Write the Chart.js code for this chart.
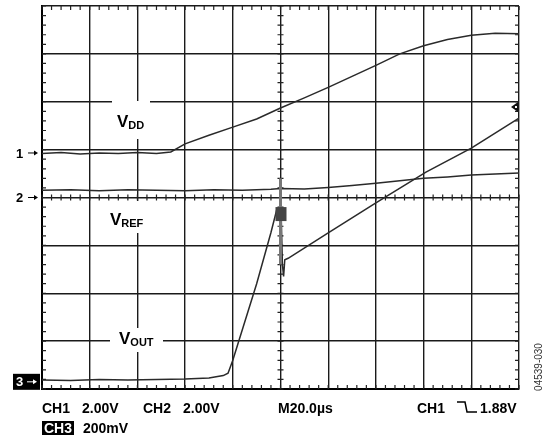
<!DOCTYPE html>
<html>
<head>
<meta charset="utf-8">
<script src="https://cdn.jsdelivr.net/npm/chart.js@4.4.0/dist/chart.umd.min.js"></script>
<style>
  html, body { margin: 0; padding: 0; background: #fff; }
  canvas { display: block; }
</style>
</head>
<body>
<canvas id="scope" width="545" height="435"></canvas>
<script>
// time in µs (M20.0µs per div, trigger at 0); level in screen divisions from the bottom edge
const vddTime  = [-100, -92, -84, -76, -68, -60, -52, -46, -40, -30, -20, -10, 0, 10, 20, 30, 40, 50, 60, 70, 80, 90, 100];
const vddLevel = [4.92, 4.94, 4.91, 4.93, 4.92, 4.94, 4.92, 4.95, 5.12, 5.30, 5.47, 5.64, 5.87, 6.08, 6.30, 6.53, 6.76, 7.00, 7.17, 7.30, 7.39, 7.43, 7.42];

const refTime  = [-100, -88, -76, -64, -52, -40, -28, -16, -4, 0, 10, 20, 30, 40, 50, 60, 70, 80, 90, 100];
const refLevel = [4.15, 4.16, 4.14, 4.16, 4.15, 4.14, 4.16, 4.15, 4.17, 4.19, 4.18, 4.21, 4.25, 4.30, 4.35, 4.40, 4.43, 4.47, 4.49, 4.51];

const outTime  = [-100, -88, -76, -64, -52, -40, -30, -24, -22, -20, -10, -4, -1.5, -0.3, 0.3, 0.8, 1.3, 1.8, 3.2, 20, 40, 61, 80, 88, 100];
const outLevel = [0.19, 0.18, 0.20, 0.19, 0.20, 0.21, 0.23, 0.28, 0.33, 0.60, 2.20, 3.27, 3.76, 3.80, 3.60, 2.60, 2.35, 2.70, 2.73, 3.26, 3.89, 4.53, 5.03, 5.28, 5.66];

const timeMin = -100, timeMax = 100, timeStep = 20;
const levelMin = 0, levelMax = 8;

const toPoints = (xs, ys) => xs.map((t, i) => ({ x: t, y: ys[i] }));
const FONT = "'Liberation Sans', Arial, sans-serif";

function traceSet(label, xs, ys) {
  return {
    label: label,
    data: toPoints(xs, ys),
    showLine: true,
    borderColor: '#2a2a2a',
    borderWidth: 1.5,
    pointRadius: 0,
    tension: 0
  };
}

// white-backed channel names inside the grid
const channelNames = [
  { main: 'V', sub: 'DD',  t: -68.6, v: 5.47, box: [112, 101, 38, 38] },
  { main: 'V', sub: 'REF', t: -71.5, v: 3.42, box: [106, 201, 45, 32] },
  { main: 'V', sub: 'OUT', t: -67.7, v: 0.94, box: [110, 328, 53, 24] }
];

const graticule = {
  id: 'graticule',
  beforeDatasetsDraw(chart) {
    const { ctx, chartArea: a, scales: { x, y } } = chart;
    const xMid = x.getPixelForValue(0);
    const yMid = y.getPixelForValue(4);
    ctx.save();
    ctx.strokeStyle = '#222';
    ctx.lineWidth = 1.2;
    ctx.beginPath();
    for (let i = 0; i <= 50; i++) {
      const px = x.getPixelForValue(timeMin + i * 4);
      ctx.moveTo(px, a.top); ctx.lineTo(px, a.top + 4);
      ctx.moveTo(px, a.bottom); ctx.lineTo(px, a.bottom - 4);
      ctx.moveTo(px, yMid - 3); ctx.lineTo(px, yMid + 3);
    }
    for (let i = 0; i <= 40; i++) {
      const py = y.getPixelForValue(i * 0.2);
      ctx.moveTo(a.left, py); ctx.lineTo(a.left + 4, py);
      ctx.moveTo(a.right, py); ctx.lineTo(a.right - 4, py);
      ctx.moveTo(xMid - 3, py); ctx.lineTo(xMid + 3, py);
    }
    ctx.stroke();

    channelNames.forEach(n => {
      ctx.fillStyle = '#fff';
      ctx.fillRect(n.box[0], n.box[1], n.box[2], n.box[3]);
      const px = x.getPixelForValue(n.t);
      const py = y.getPixelForValue(n.v);
      ctx.fillStyle = '#000';
      ctx.textBaseline = 'alphabetic';
      ctx.textAlign = 'left';
      ctx.font = 'bold 17px ' + FONT;
      ctx.fillText(n.main, px, py);
      const w = ctx.measureText(n.main).width;
      ctx.font = 'bold 11px ' + FONT;
      ctx.fillText(n.sub, px + w, py + 2);
    });
    ctx.restore();
  },
  afterDatasetsDraw(chart) {
    const { ctx, chartArea: a, scales: { x, y } } = chart;
    const xMid = x.getPixelForValue(0);
    ctx.save();
    // trigger point marker
    ctx.strokeStyle = '#777';
    ctx.lineWidth = 3;
    ctx.beginPath();
    ctx.moveTo(xMid, y.getPixelForValue(4.4));
    ctx.lineTo(xMid, y.getPixelForValue(2.6));
    ctx.stroke();
    ctx.fillStyle = '#444';
    ctx.fillRect(xMid - 5, y.getPixelForValue(3.8), 11, 14);
    // CH1 trigger level marker on the right edge
    const ty = y.getPixelForValue(5.89);
    ctx.fillStyle = '#111';
    ctx.beginPath();
    ctx.moveTo(a.right - 8, ty);
    ctx.lineTo(a.right - 1, ty - 5);
    ctx.lineTo(a.right - 1, ty + 5);
    ctx.closePath();
    ctx.fill();
    ctx.fillStyle = '#fff';
    ctx.fillRect(a.right - 4, ty - 1, 2, 2);
    ctx.restore();
  },
  afterDraw(chart) {
    const { ctx, chartArea: a, scales: { y } } = chart;
    ctx.save();
    ctx.textBaseline = 'middle';
    ctx.textAlign = 'left';
    ctx.font = 'bold 13px ' + FONT;

    // ground reference markers
    const arrow = (x0, yy, color) => {
      ctx.strokeStyle = color; ctx.fillStyle = color; ctx.lineWidth = 1;
      ctx.beginPath(); ctx.moveTo(x0, yy); ctx.lineTo(x0 + 7, yy); ctx.stroke();
      ctx.beginPath(); ctx.moveTo(x0 + 10, yy); ctx.lineTo(x0 + 6, yy - 2.5); ctx.lineTo(x0 + 6, yy + 2.5); ctx.closePath(); ctx.fill();
    };
    const g1 = y.getPixelForValue(4.93), g2 = y.getPixelForValue(4.0), g3 = y.getPixelForValue(0.15);
    ctx.fillStyle = '#000';
    ctx.fillText('1', 16, g1 + 1); arrow(28, g1, '#000');
    ctx.fillStyle = '#000';
    ctx.fillText('2', 16, g2 + 1); arrow(28, g2, '#000');
    ctx.fillStyle = '#000';
    ctx.fillRect(13, g3 - 8, 27, 16);
    ctx.fillStyle = '#fff';
    ctx.fillText('3', 16, g3 + 1); arrow(27, g3, '#fff');

    // readout lines
    ctx.fillStyle = '#000';
    ctx.textBaseline = 'alphabetic';
    ctx.font = 'bold 14px ' + FONT;
    ctx.fillText('CH1', 42, 413);
    ctx.fillText('2.00V', 82, 413);
    ctx.fillText('CH2', 143, 413);
    ctx.fillText('2.00V', 183, 413);
    ctx.fillText('M20.0\u00b5s', 278, 413);
    ctx.fillText('CH1', 417, 413);
    ctx.fillText('1.88V', 480, 413);
    ctx.strokeStyle = '#000'; ctx.lineWidth = 1.5;
    ctx.beginPath();
    ctx.moveTo(457, 402); ctx.lineTo(465, 402); ctx.lineTo(467, 412); ctx.lineTo(477, 412);
    ctx.stroke();
    ctx.fillRect(42, 421, 32, 14);
    ctx.fillStyle = '#fff';
    ctx.fillText('CH3', 44, 433);
    ctx.fillStyle = '#000';
    ctx.fillText('200mV', 83, 433);

    // figure code
    ctx.translate(539, 367);
    ctx.rotate(-Math.PI / 2);
    ctx.textAlign = 'center';
    ctx.textBaseline = 'middle';
    ctx.font = '10px ' + FONT;
    ctx.fillStyle = '#333';
    ctx.fillText('04539-030', 0, 0);
    ctx.restore();
  }
};

new Chart(document.getElementById('scope'), {
  type: 'scatter',
  data: {
    datasets: [
      traceSet('VDD', vddTime, vddLevel),
      traceSet('VREF', refTime, refLevel),
      traceSet('VOUT', outTime, outLevel)
    ]
  },
  options: {
    responsive: false,
    animation: false,
    devicePixelRatio: 1,
    layout: { padding: { left: 42, right: 26, top: 6, bottom: 46 } },
    plugins: {
      legend: { display: false },
      tooltip: { enabled: false }
    },
    scales: {
      x: {
        type: 'linear',
        min: timeMin,
        max: timeMax,
        ticks: { display: false, stepSize: timeStep },
        grid: { color: '#1a1a1a', lineWidth: 1.4, drawTicks: false },
        border: { display: true, color: '#000', width: 2 }
      },
      y: {
        type: 'linear',
        min: levelMin,
        max: levelMax,
        ticks: { display: false, stepSize: 1 },
        grid: { color: '#1a1a1a', lineWidth: 1.4, drawTicks: false },
        border: { display: true, color: '#000', width: 2 }
      }
    }
  },
  plugins: [graticule]
});
</script>
</body>
</html>
